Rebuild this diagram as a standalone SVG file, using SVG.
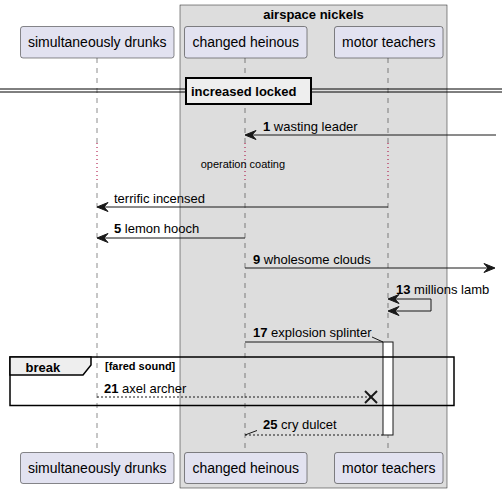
<svg xmlns="http://www.w3.org/2000/svg" width="502" height="493" viewBox="0 0 502 493">
<defs>
<style>
text{font-family:"Liberation Sans",Arial,sans-serif;fill:#000}
.p{fill:#E2E2F0;stroke:#181818;stroke-width:0.5}
.pt{font-size:14px;text-anchor:middle}
.m{font-size:13px}
.b{font-weight:bold}
.life{stroke:#181818;stroke-width:0.5;stroke-dasharray:5,5;fill:none}
.delay{stroke:#A80036;stroke-width:1;stroke-dasharray:1,3;fill:none}
.ln{stroke:#181818;stroke-width:1;fill:none}
.dash{stroke:#181818;stroke-width:1;fill:none;stroke-dasharray:2,2}
.ah{fill:#181818;stroke:#181818;stroke-width:1}
</style>
</defs>
<rect id="box" x="180" y="5" width="267" height="483" fill="#DDDDDD" stroke="#181818" stroke-width="0.5"/>
<text x="313.5" y="19" class="m b" text-anchor="middle">airspace nickels</text>
<g id="lifelines">
<line class="life" x1="97" y1="58" x2="97" y2="143"/>
<line class="life" x1="97" y1="183" x2="97" y2="452"/>
<line class="delay" x1="97" y1="143" x2="97" y2="183"/>
<line class="life" x1="245" y1="58" x2="245" y2="143"/>
<line class="life" x1="245" y1="183" x2="245" y2="452"/>
<line class="delay" x1="245" y1="143" x2="245" y2="183"/>
<line class="life" x1="388" y1="58" x2="388" y2="143"/>
<line class="life" x1="388" y1="183" x2="388" y2="452"/>
<line class="delay" x1="388" y1="143" x2="388" y2="183"/>
</g>
<g id="p1"><rect class="p" x="20.5" y="26.5" width="153.5" height="31.5" rx="2.5"/><text class="pt" x="97.25" y="47">simultaneously drunks</text></g>
<g id="p2"><rect class="p" x="184.5" y="26.5" width="122.5" height="31.5" rx="2.5"/><text class="pt" x="245.75" y="47">changed heinous</text></g>
<g id="p3"><rect class="p" x="334.5" y="26.5" width="108.5" height="31.5" rx="2.5"/><text class="pt" x="388.75" y="47">motor teachers</text></g>
<g id="p1b"><rect class="p" x="20.5" y="452.5" width="153.5" height="31" rx="2.5"/><text class="pt" x="97.25" y="473">simultaneously drunks</text></g>
<g id="p2b"><rect class="p" x="184.5" y="452.5" width="122.5" height="31" rx="2.5"/><text class="pt" x="245.75" y="473">changed heinous</text></g>
<g id="p3b"><rect class="p" x="334.5" y="452.5" width="108.5" height="31" rx="2.5"/><text class="pt" x="388.75" y="473">motor teachers</text></g>
<g id="divider">
<line x1="0" y1="89" x2="502" y2="89" stroke="#000" stroke-width="1"/>
<line x1="0" y1="92" x2="502" y2="92" stroke="#000" stroke-width="1"/>
<rect x="186" y="78" width="125" height="26" fill="#EEEEEE" stroke="#000" stroke-width="2"/>
<text x="191" y="96" class="m b">increased locked</text>
</g>
<g id="activation"><rect x="383" y="342" width="10" height="93" fill="#FFFFFF" stroke="#181818" stroke-width="1"/></g>
<g id="connectors">
<line class="ln" x1="496" y1="135" x2="246" y2="135"/>
<polygon class="ah" points="245,135 256,130.5 252,135 256,139.5"/>
<text x="263" y="131" class="m"><tspan class="b">1</tspan> wasting leader</text>
<text x="200.7" y="168" font-size="11px">operation coating</text>
<line class="ln" x1="388" y1="207" x2="98" y2="207"/>
<polygon class="ah" points="97,207 108,202.5 104,207 108,211.5"/>
<text x="114" y="203" class="m">terrific incensed</text>
<line class="ln" x1="245" y1="238" x2="98" y2="238"/>
<polygon class="ah" points="97,238 108,233.5 104,238 108,242.5"/>
<text x="114" y="233" class="m"><tspan class="b">5</tspan> lemon hooch</text>
<line class="ln" x1="245" y1="268" x2="494" y2="268"/>
<polygon class="ah" points="495,268 484,263.5 488,268 484,272.5"/>
<text x="253" y="264" class="m"><tspan class="b">9</tspan> wholesome clouds</text>
<polyline class="ln" points="389,299 431,299 431,311 389,311"/>
<polygon class="ah" points="388,299 399,294.5 395,299 399,303.5"/>
<polygon class="ah" points="388,311 399,306.5 395,311 399,315.5"/>
<text x="396" y="294" class="m"><tspan class="b">13</tspan> millions lamb</text>
<line class="ln" x1="245" y1="342" x2="383" y2="342"/>
<line class="ln" x1="383" y1="342" x2="372" y2="337"/>
<text x="253" y="337" class="m"><tspan class="b">17</tspan> explosion splinter</text>
<line class="dash" x1="97" y1="397" x2="370" y2="397"/>
<line x1="365" y1="391" x2="377" y2="403" stroke="#181818" stroke-width="2"/>
<line x1="365" y1="403" x2="377" y2="391" stroke="#181818" stroke-width="2"/>
<text x="104" y="392.5" class="m"><tspan class="b">21</tspan> axel archer</text>
<line class="dash" x1="383" y1="435" x2="245" y2="435"/>
<line class="ln" x1="245" y1="435" x2="257" y2="430.5"/>
<text x="263" y="429" class="m"><tspan class="b">25</tspan> cry dulcet</text>
</g>
<g id="group-break">
<rect x="10" y="357" width="444" height="48.5" fill="none" stroke="#000" stroke-width="1.5"/>
<polygon points="10,357 91,357 91,365 83,375 10,375" fill="#EEEEEE" stroke="#000" stroke-width="1.5"/>
<text x="25.5" y="371.5" class="m b">break</text>
<text x="105" y="370" font-size="11px" font-weight="bold">[fared sound]</text>
</g>
</svg>
